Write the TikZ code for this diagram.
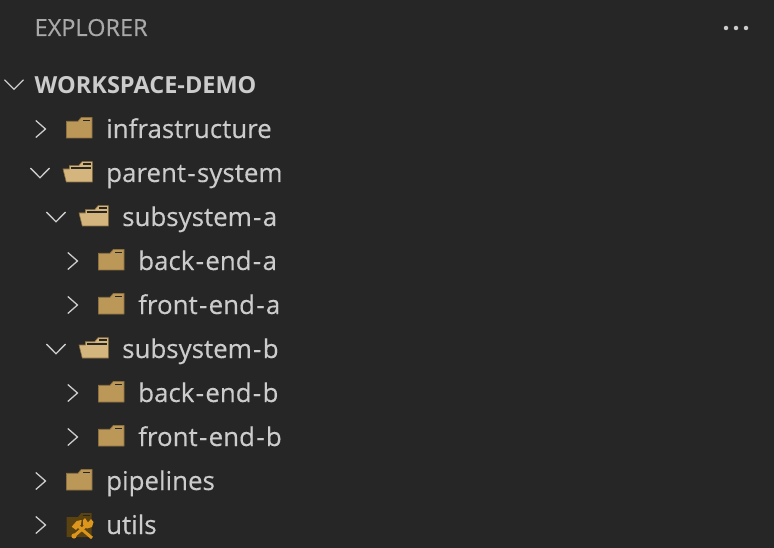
\documentclass[tikz,border=0pt]{standalone}
\usepackage{fontspec}
\setmainfont{Open Sans}
\newfontfamily\rowfont[FakeBold=0.25]{Open Sans}
\newcommand{\rowdash}{\kern1.3pt-\kern1.3pt}
\definecolor{panelbg}{HTML}{262626}
\definecolor{rowtext}{HTML}{CCCCCC}
\definecolor{headtext}{HTML}{A9A9A9}
\definecolor{foldershut}{HTML}{BC9858}
\definecolor{folderedge}{HTML}{8C7040}
\definecolor{folderopen}{HTML}{D5B57E}
\definecolor{utilsdark}{HTML}{5A4310}
\definecolor{utilstool}{HTML}{DC961E}
\tikzset{
  rowlabel/.style={font=\rowfont\fontsize{25.9}{26}\selectfont,text=rowtext,anchor=base west,inner sep=0pt},
  chevron/.style={draw=rowtext,line width=1.3pt,line cap=round,line join=miter},
  menudot/.style={circle,fill=rowtext,inner sep=0pt,minimum size=4.5pt},
  shutfolder/.pic={
    \fill[foldershut,draw=folderedge,line width=0.8pt] (-12.5,9) -- (-12.5,-7.7) -- (-1,-7.7) -- (2.3,-11.5) -- (13,-11.5) -- (13,9) -- cycle;
    \draw[panelbg,line width=1.3pt] (4,-8.8) -- (10.8,-8.8);
  },
  openfolder/.pic={
    \fill[folderopen,draw=folderedge,line width=0.6pt] (-9.7,-7.3) -- (-0.3,-7.3) -- (3,-11.3) -- (13.3,-11.3) -- (13.3,9) -- (-12.7,9) -- (-16,-4) -- (-9.7,-4) -- cycle;
    \draw[panelbg,line width=1.5pt] (-8.5,-5.2) -- (12,-5.2);
    \draw[panelbg,line width=1.5pt] (4,-9) -- (11.5,-9);
  },
  toolfolder/.pic={
    \fill[utilsdark] (-12.5,12) -- (-12.5,-8) -- (-1,-8) -- (2.3,-12) -- (12.7,-12) -- (12.7,12) -- cycle;
    \draw[panelbg,line width=1.3pt] (4,-9.2) -- (10.8,-9.2);
    % hammer
    \draw[utilstool,line width=3pt] (-1,1) -- (13,13);
    \fill[utilstool] (-7.3,1.7) -- (-2.3,-4) -- (2.7,-5) -- (1.7,0) -- (-3,5) -- cycle;
    % wrench
    \draw[utilstool,line width=3pt] (9,-1) -- (-5,11);
    \fill[utilstool] (6,-7) -- (9,-2.5) -- (12,-6) -- (14.5,-3) -- (13,2) -- (8,3.5) -- (4,0) -- (4,-5) -- cycle;
    \fill[utilstool] (-5,11) circle (2.6pt);
  }
}
\begin{document}
\begin{tikzpicture}[x=1pt,y=-1pt]
\useasboundingbox[fill=panelbg] (0,0) rectangle (774,548);
% header
\node[font=\rowfont\fontsize{23.5}{24}\selectfont,text=headtext,anchor=base west,inner sep=0pt] (explorer) at (34.5,36) {EXPLORER};
\node[menudot] (dotone) at (726,28) {};
\node[menudot] (dottwo) at (736,28) {};
\node[menudot] (dotthree) at (746,28) {};
% root row
\draw[chevron] (4.7,80) -- (14,89.3) -- (23.3,80);
\node[font=\fontsize{23.5}{24}\selectfont\bfseries,text=rowtext,anchor=base west,inner sep=0pt] (workspace) at (34.5,93.5) {WORKSPACE-DEMO};
% level one
\draw[chevron] (36,120.7) -- (45.5,129) -- (36,137.3);
\pic at (79,129) {shutfolder};
\node[rowlabel] (infrastructure) at (106,138) {infrastructure};
\draw[chevron] (30.7,168.3) -- (40,177.7) -- (49.3,168.3);
\pic at (79,173) {openfolder};
\node[rowlabel] (parentsystem) at (106,182) {parent\rowdash system};
% subsystem a
\draw[chevron] (46.7,212.3) -- (56,221.7) -- (65.3,212.3);
\pic at (95,217) {openfolder};
\node[rowlabel] (subsystema) at (122,226) {subsystem\rowdash a};
\draw[chevron] (68,252.7) -- (77.5,261) -- (68,269.3);
\pic at (111,261) {shutfolder};
\node[rowlabel] (backenda) at (138,270) {back\rowdash end\rowdash a};
\draw[chevron] (68,296.7) -- (77.5,305) -- (68,313.3);
\pic at (111,305) {shutfolder};
\node[rowlabel] (frontenda) at (138,314) {front\rowdash end\rowdash a};
% subsystem b
\draw[chevron] (46.7,344.3) -- (56,353.7) -- (65.3,344.3);
\pic at (95,349) {openfolder};
\node[rowlabel] (subsystemb) at (122,358) {subsystem\rowdash b};
\draw[chevron] (68,384.7) -- (77.5,393) -- (68,401.3);
\pic at (111,393) {shutfolder};
\node[rowlabel] (backendb) at (138,402) {back\rowdash end\rowdash b};
\draw[chevron] (68,428.7) -- (77.5,437) -- (68,445.3);
\pic at (111,437) {shutfolder};
\node[rowlabel] (frontendb) at (138,446) {front\rowdash end\rowdash b};
% level one again
\draw[chevron] (36,472.7) -- (45.5,481) -- (36,489.3);
\pic at (79,481) {shutfolder};
\node[rowlabel] (pipelines) at (106,490) {pipelines};
\draw[chevron] (36,516.7) -- (45.5,525) -- (36,533.3);
\pic at (79,525) {toolfolder};
\node[rowlabel] (utils) at (106,534) {utils};
\end{tikzpicture}
\end{document}
